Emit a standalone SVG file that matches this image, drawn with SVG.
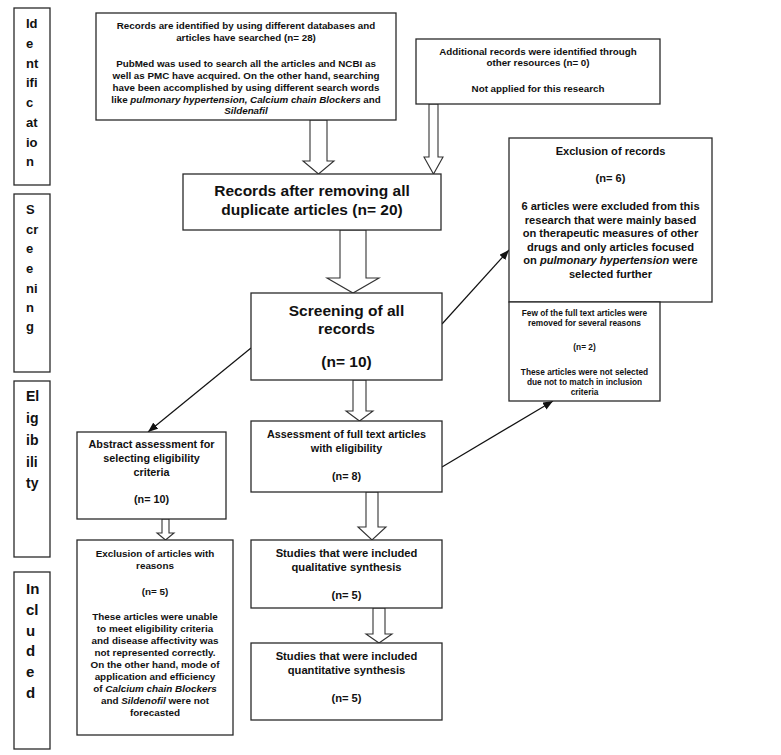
<svg xmlns="http://www.w3.org/2000/svg" width="781" height="755" viewBox="0 0 781 755">
<style>
.box{fill:#fff;stroke:#2a2a2a;stroke-width:1.3}
.ha{fill:#fff;stroke:#333;stroke-width:1.1;stroke-linejoin:miter}
.ln{fill:none;stroke:#111;stroke-width:1.2}
text{font-family:"Liberation Sans",Arial,sans-serif;font-weight:bold;fill:#111}
.c{text-anchor:middle}
.side{font-size:13px}
.s88{font-size:9.8px}
.s14{font-size:15.5px}
.s98{font-size:11.1px}
.s72{font-size:8.3px}
.s9{font-size:9.9px}
.s10{font-size:10.8px}
.s11{font-size:11.2px}
</style>
<defs>
<marker id="ah" markerUnits="userSpaceOnUse" markerWidth="10" markerHeight="8" refX="10" refY="4" orient="auto">
<path d="M0,0 L10,4 L0,8 z" fill="#111"/>
</marker>
</defs>
<rect width="781" height="755" fill="#fff"/>

<g id="stage-identification">
<rect class="box" x="14" y="8" width="36" height="177"/>
<text class="side" x="26" y="28">Id</text>
<text class="side" x="26" y="48">e</text>
<text class="side" x="26" y="68">nt</text>
<text class="side" x="26" y="87">ifi</text>
<text class="side" x="26" y="107">c</text>
<text class="side" x="26" y="127">at</text>
<text class="side" x="26" y="147">io</text>
<text class="side" x="26" y="166">n</text>
</g>
<g id="stage-screening">
<rect class="box" x="14" y="194" width="36" height="178"/>
<text class="side" x="26" y="214">S</text>
<text class="side" x="26" y="234">cr</text>
<text class="side" x="26" y="253">e</text>
<text class="side" x="26" y="273">e</text>
<text class="side" x="26" y="293">ni</text>
<text class="side" x="26" y="312">n</text>
<text class="side" x="26" y="331">g</text>
</g>
<g id="stage-eligibility">
<rect class="box" x="14" y="381" width="36" height="176"/>
<text class="side" x="26" y="401" style="font-size:14px">El</text>
<text class="side" x="26" y="423" style="font-size:14px">ig</text>
<text class="side" x="26" y="445" style="font-size:14px">ib</text>
<text class="side" x="26" y="467" style="font-size:14px">ili</text>
<text class="side" x="26" y="488" style="font-size:14px">ty</text>
</g>
<g id="stage-included">
<rect class="box" x="14" y="572" width="36" height="177"/>
<text class="side" x="26" y="594" style="font-size:15px">In</text>
<text class="side" x="26" y="615" style="font-size:15px">cl</text>
<text class="side" x="26" y="636" style="font-size:15px">u</text>
<text class="side" x="26" y="656" style="font-size:15px">d</text>
<text class="side" x="26" y="677" style="font-size:15px">e</text>
<text class="side" x="26" y="698" style="font-size:15px">d</text>
</g>

<g id="connectors">
<polygon class="ha" points="310,120 327,120 327,161 334,161 318.5,174 303,161 310,161"/>
<polygon class="ha" points="429,104 438,104 438,157 443,157 433.5,174 424,157 429,157"/>
<polygon class="ha" points="340,230 366,230 366,278 379,278 353,293 327,278 340,278"/>
<polygon class="ha" points="353,380 366,380 366,411 373,411 359.5,421 346,411 353,411"/>
<polygon class="ha" points="162,519 169,519 169,533 174,533 165.5,540 157,533 162,533"/>
<polygon class="ha" points="366,492 378,492 378,527 386,527 372,540 358,527 366,527"/>
<polygon class="ha" points="373,608 385,608 385,634 392,634 379,643 366,634 373,634"/>
<line class="ln" x1="442" y1="324" x2="509" y2="250" marker-end="url(#ah)"/>
<line class="ln" x1="251" y1="348" x2="148" y2="432" marker-end="url(#ah)"/>
<line class="ln" x1="442" y1="467" x2="553" y2="401" marker-end="url(#ah)"/>
</g>

<g id="n-records-identified">
<rect class="box" x="96" y="13" width="300" height="107"/>
<text class="c s88" x="246" y="28.5">Records are identified by using different databases and</text>
<text class="c s88" x="246" y="41">articles have searched (n= 28)</text>
<text class="c s88" x="246" y="66.5">PubMed was used to search all the articles and NCBI as</text>
<text class="c s88" x="246" y="78.5">well as PMC have acquired. On the other hand, searching</text>
<text class="c s88" x="246" y="90.5">have been accomplished by using different search words</text>
<text class="c s88" x="246" y="102.5">like <tspan font-style="italic">pulmonary hypertension, Calcium chain Blockers</tspan> and</text>
<text class="c s88" x="246" y="114" font-style="italic">Sildenafil</text>
</g>

<g id="n-additional">
<rect class="box" x="416" y="39" width="244" height="65"/>
<text class="c s88" x="538" y="55">Additional records were identified through</text>
<text class="c s88" x="538" y="66">other resources (n= 0)</text>
<text class="c s88" x="538" y="92">Not applied for this research</text>
</g>

<g id="n-after-duplicates">
<rect class="box" x="183" y="174" width="258" height="56"/>
<text class="c s14" x="312" y="195.5">Records after removing all</text>
<text class="c s14" x="312" y="214.5">duplicate articles (n= 20)</text>
</g>

<g id="n-screening">
<rect class="box" x="251" y="293" width="191" height="87"/>
<text class="c s14" x="346.5" y="315.5">Screening of all</text>
<text class="c s14" x="346.5" y="333.5">records</text>
<text class="c s14" x="346.5" y="366.5">(n= 10)</text>
</g>

<g id="n-exclusion-records">
<rect class="box" x="509" y="138" width="203" height="164"/>
<text class="c s98" x="610.5" y="155">Exclusion of records</text>
<text class="c s98" x="610.5" y="182">(n= 6)</text>
<text class="c s98" x="610.5" y="210">6 articles were excluded from this</text>
<text class="c s98" x="610.5" y="223.5">research that were mainly based</text>
<text class="c s98" x="610.5" y="237">on therapeutic measures of other</text>
<text class="c s98" x="610.5" y="250.5">drugs and only articles focused</text>
<text class="c s98" x="610.5" y="264">on <tspan font-style="italic">pulmonary hypertension</tspan> were</text>
<text class="c s98" x="610.5" y="277.5">selected further</text>
</g>

<g id="n-fulltext-removed">
<rect class="box" x="509" y="302" width="151" height="99"/>
<text class="c s72" x="584.5" y="316">Few of the full text articles were</text>
<text class="c s72" x="584.5" y="326">removed for several reasons</text>
<text class="c s72" x="584.5" y="350">(n= 2)</text>
<text class="c s72" x="584.5" y="375">These articles were not selected</text>
<text class="c s72" x="584.5" y="385">due not to match in inclusion</text>
<text class="c s72" x="584.5" y="395">criteria</text>
</g>

<g id="n-abstract">
<rect class="box" x="77" y="432" width="149" height="87"/>
<text class="c s10" x="151.5" y="448">Abstract assessment for</text>
<text class="c s10" x="151.5" y="462">selecting eligibility</text>
<text class="c s10" x="151.5" y="476">criteria</text>
<text class="c s10" x="151.5" y="503">(n= 10)</text>
</g>

<g id="n-assessment">
<rect class="box" x="251" y="421" width="191" height="71"/>
<text class="c s10" x="346.5" y="438">Assessment of full text articles</text>
<text class="c s10" x="346.5" y="452">with eligibility</text>
<text class="c s10" x="346.5" y="480">(n= 8)</text>
</g>

<g id="n-exclusion-articles">
<rect class="box" x="77" y="540" width="156" height="195"/>
<text class="c s9" x="155" y="556.5">Exclusion of articles with</text>
<text class="c s9" x="155" y="568.5">reasons</text>
<text class="c s9" x="155" y="594.5">(n= 5)</text>
<text class="c s9" x="155" y="619.5">These articles were unable</text>
<text class="c s9" x="155" y="631.5">to meet eligibility criteria</text>
<text class="c s9" x="155" y="643.5">and disease affectivity was</text>
<text class="c s9" x="155" y="655.5">not represented correctly.</text>
<text class="c s9" x="155" y="667.5">On the other hand, mode of</text>
<text class="c s9" x="155" y="679.5">application and efficiency</text>
<text class="c s9" x="155" y="691.5">of <tspan font-style="italic">Calcium chain Blockers</tspan></text>
<text class="c s9" x="155" y="703.5">and <tspan font-style="italic">Sildenofil</tspan> were not</text>
<text class="c s9" x="155" y="715.5">forecasted</text>
</g>

<g id="n-qualitative">
<rect class="box" x="251" y="540" width="191" height="68"/>
<text class="c s11" x="346.5" y="557">Studies that were included</text>
<text class="c s11" x="346.5" y="571">qualitative synthesis</text>
<text class="c s11" x="346.5" y="599">(n= 5)</text>
</g>

<g id="n-quantitative">
<rect class="box" x="251" y="643" width="191" height="77"/>
<text class="c s11" x="346.5" y="660">Studies that were included</text>
<text class="c s11" x="346.5" y="674">quantitative synthesis</text>
<text class="c s11" x="346.5" y="702">(n= 5)</text>
</g>
</svg>
